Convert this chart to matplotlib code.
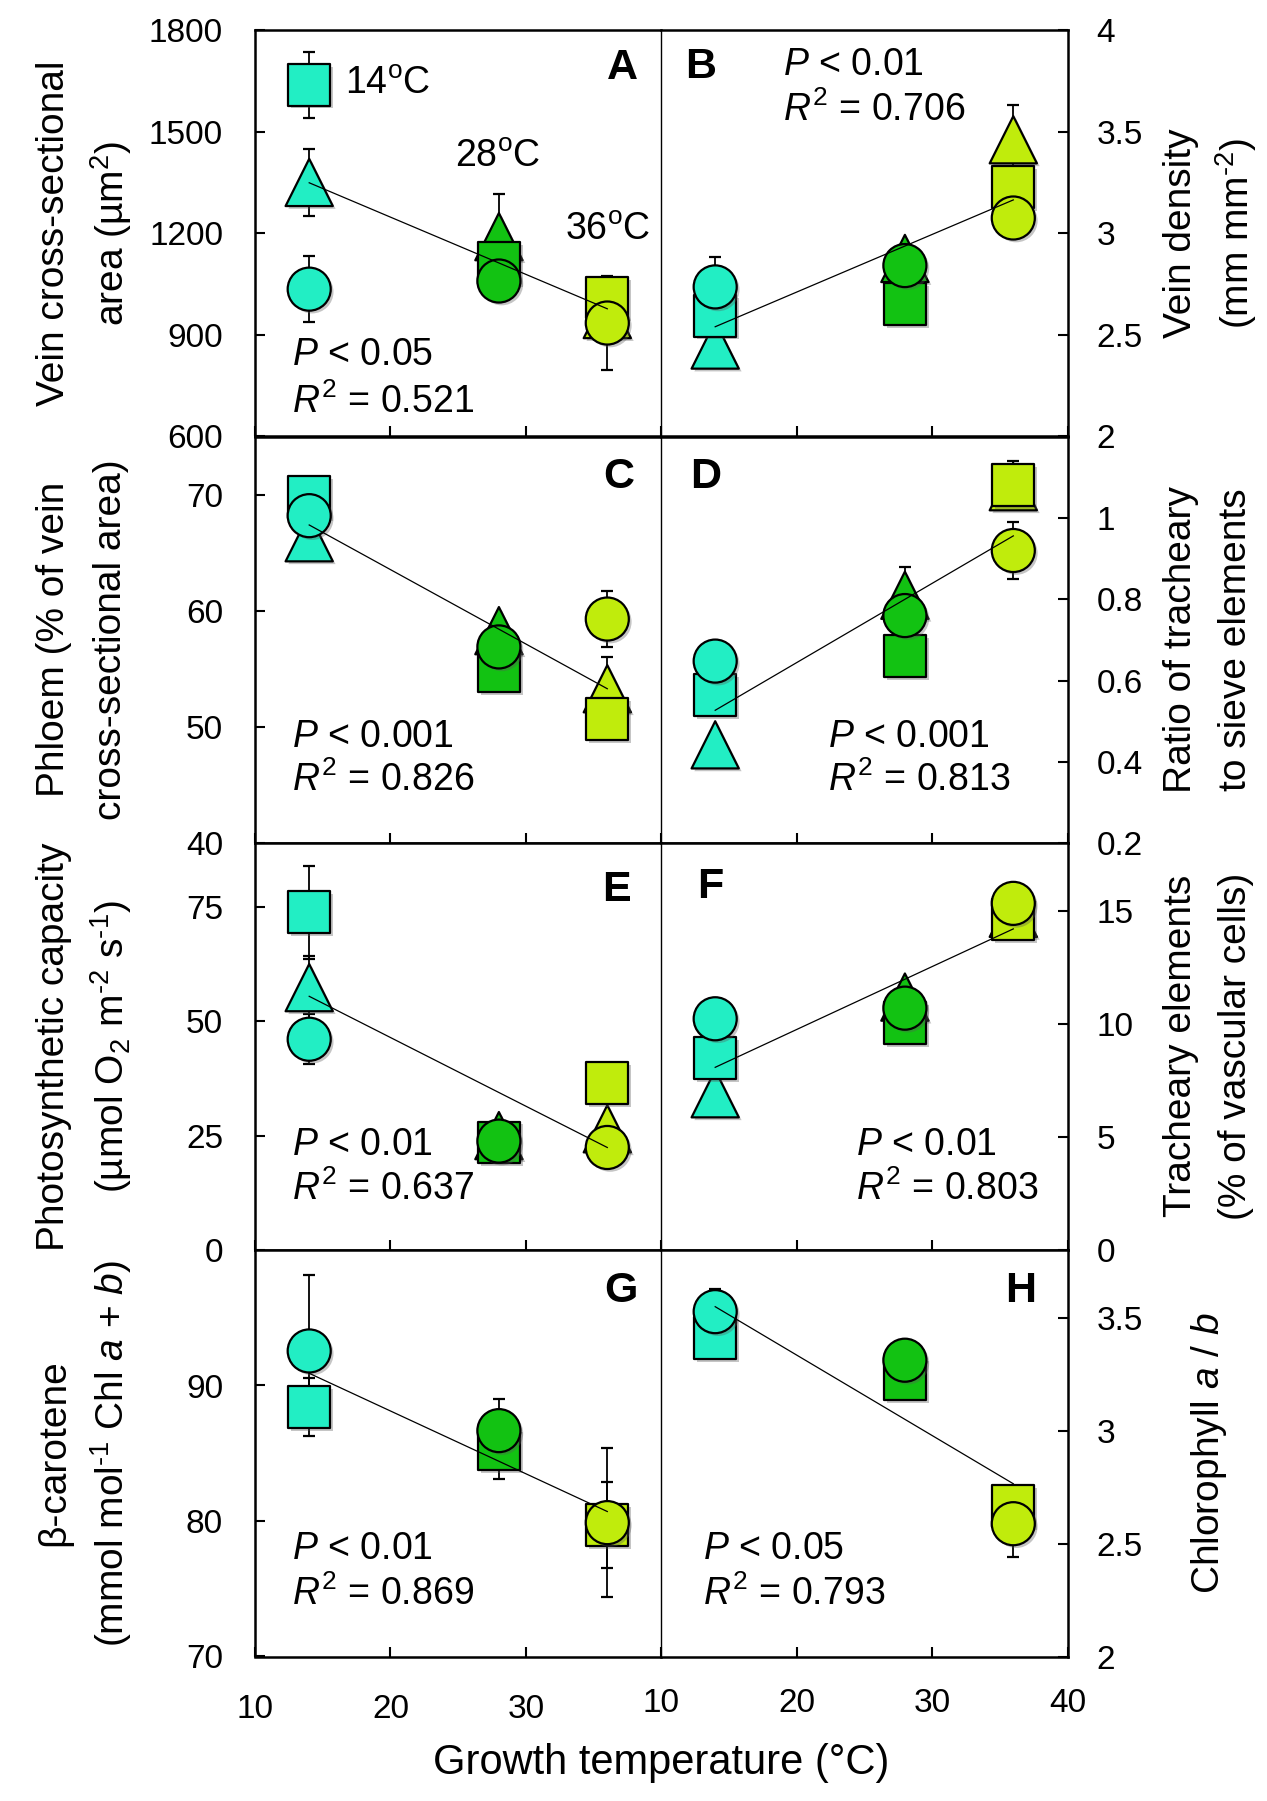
import matplotlib
matplotlib.use('Agg')
import matplotlib.pyplot as plt
import matplotlib.patheffects as pe

# fonts: Arial-like everywhere, math italics for P, R, a, b
plt.rcParams['font.family'] = ['Liberation Sans', 'DejaVu Sans']
plt.rcParams['mathtext.fontset'] = 'custom'
plt.rcParams['mathtext.rm'] = 'Liberation Sans'
plt.rcParams['mathtext.it'] = 'Liberation Sans:italic'
plt.rcParams['mathtext.bf'] = 'Liberation Sans:bold'

# ---------------- data ----------------
temps = [14, 28, 36]
fit_x = [14, 36]
colors = ['#22EEC4', '#12C212', '#C0EC0C']

# A  vein cross-sectional area (um2)
area_tri = [1350, 1190, 960]
area_tri_se = [100, 125, 0]
area_sq = [1638, 1112, 1010]
area_sq_se = [98, 0, 0]
area_cir = [1035, 1059, 935]
area_cir_se = [97, 0, 138]
area_fit = [1349, 977]

# B  vein density (mm mm-2)
dens_tri = [2.45, 2.876, 3.46]
dens_tri_se = [0, 0.05, 0.17]
dens_sq = [2.594, 2.652, 3.227]
dens_sq_se = [0, 0, 0.03]
dens_cir = [2.736, 2.841, 3.075]
dens_cir_se = [0.146, 0, 0]
dens_fit = [2.54, 3.164]

# C  phloem (% of vein cross-sectional area)
phl_tri = [66.3, 58.3, 53.3]
phl_tri_se = [0, 0, 2.7]
phl_sq = [69.8, 54.8, 50.7]
phl_sq_se = [0, 0, 0]
phl_cir = [68.2, 56.9, 59.3]
phl_cir_se = [0, 0, 2.4]
phl_fit = [67.4, 53.3]

# D  ratio of tracheary to sieve elements
rat_tri = [0.442, 0.81, 1.077]
rat_tri_se = [0, 0.069, 0]
rat_sq = [0.564, 0.660, 1.081]
rat_sq_se = [0, 0, 0.06]
rat_cir = [0.648, 0.760, 0.920]
rat_cir_se = [0, 0, 0.069]
rat_fit = [0.527, 0.956]

# E  photosynthetic capacity (umol O2 m-2 s-1)
ps_tri = [57.4, 25.0, 26.5]
ps_tri_se = [7, 2, 0]
ps_sq = [73.9, 23.5, 36.5]
ps_sq_se = [10.2, 0, 0]
ps_cir = [46.1, 23.8, 22.4]
ps_cir_se = [5.5, 0, 0]
ps_fit = [55.5, 22.4]

# F  tracheary elements (% of vascular cells)
te_tri = [6.91, 11.19, 14.9]
te_tri_se = [0, 0, 0]
te_sq = [8.48, 10.04, 14.63]
te_sq_se = [0, 0, 0]
te_cir = [10.23, 10.70, 15.34]
te_cir_se = [0, 0, 0]
te_fit = [8.08, 14.21]

# G  beta-carotene (mmol mol-1 Chl a+b)
bc_sq = [88.4, 85.27, 79.7]
bc_sq_se = [2.16, 2.2, 3.2]
bc_cir = [92.55, 86.67, 79.88]
bc_cir_se = [5.6, 2.3, 5.5]
bc_fit = [90.9, 80.7]

# H  chlorophyll a/b
chl_sq = [3.41, 3.228, 2.665]
chl_sq_se = [0, 0, 0]
chl_cir = [3.527, 3.312, 2.588]
chl_cir_se = [0.1, 0, 0.148]
chl_fit = [3.549, 2.765]

stats_p = ['< 0.05', '< 0.01', '< 0.001', '< 0.001', '< 0.01', '< 0.01', '< 0.01', '< 0.05']
stats_r2 = ['0.521', '0.706', '0.826', '0.813', '0.637', '0.803', '0.869', '0.793']

# ---------------- panel setup ----------------
panels = [
    dict(letter='A', row=0, col=0, ylim=(600, 1800), yticks=[600, 900, 1200, 1500, 1800],
         series=[('^', area_tri, area_tri_se), ('s', area_sq, area_sq_se), ('o', area_cir, area_cir_se)],
         fit=area_fit, lpos=(0.904, 0.906), spos=(0.091, 0.200, 0.084),
         ylabel=['Vein cross-sectional', 'area (µm$^{2}$)']),
    dict(letter='B', row=0, col=1, ylim=(2, 4), yticks=[2, 2.5, 3, 3.5, 4],
         series=[('^', dens_tri, dens_tri_se), ('s', dens_sq, dens_sq_se), ('o', dens_cir, dens_cir_se)],
         fit=dens_fit, lpos=(0.098, 0.909), spos=(0.30, 0.914, 0.803),
         ylabel=['Vein density', '(mm mm$^{\\mathrm{\u2010}2}$)']),
    dict(letter='C', row=1, col=0, ylim=(40, 75), yticks=[40, 50, 60, 70],
         series=[('^', phl_tri, phl_tri_se), ('s', phl_sq, phl_sq_se), ('o', phl_cir, phl_cir_se)],
         fit=phl_fit, lpos=(0.894, 0.90), spos=(0.091, 0.261, 0.154),
         ylabel=['Phloem (% of vein', 'cross-sectional area)']),
    dict(letter='D', row=1, col=1, ylim=(0.2, 1.2), yticks=[0.2, 0.4, 0.6, 0.8, 1.0],
         series=[('^', rat_tri, rat_tri_se), ('s', rat_sq, rat_sq_se), ('o', rat_cir, rat_cir_se)],
         fit=rat_fit, lpos=(0.11, 0.90), spos=(0.41, 0.261, 0.154),
         ylabel=['Ratio of tracheary', 'to sieve elements']),
    dict(letter='E', row=2, col=0, ylim=(0, 89), yticks=[0, 25, 50, 75],
         series=[('^', ps_tri, ps_tri_se), ('s', ps_sq, ps_sq_se), ('o', ps_cir, ps_cir_se)],
         fit=ps_fit, lpos=(0.89, 0.885), spos=(0.09, 0.259, 0.148),
         ylabel=['Photosynthetic capacity',
                 '(µmol O$_{2}$ m$^{\\mathrm{\u2010}2}$ s$^{\\mathrm{\u2010}1}$)']),
    dict(letter='F', row=2, col=1, ylim=(0, 18), yticks=[0, 5, 10, 15],
         series=[('^', te_tri, te_tri_se), ('s', te_sq, te_sq_se), ('o', te_cir, te_cir_se)],
         fit=te_fit, lpos=(0.12, 0.893), spos=(0.48, 0.259, 0.148),
         ylabel=['Tracheary elements', '(% of vascular cells)']),
    dict(letter='G', row=3, col=0, ylim=(70, 100), yticks=[70, 80, 90],
         series=[('s', bc_sq, bc_sq_se), ('o', bc_cir, bc_cir_se)],
         fit=bc_fit, lpos=(0.90, 0.90), spos=(0.09, 0.265, 0.154),
         ylabel=['β-carotene',
                 '(mmol mol$^{\\mathrm{\u2010}1}$ Chl $\\mathit{a}$ + $\\mathit{b}$)']),
    dict(letter='H', row=3, col=1, ylim=(2, 3.8), yticks=[2, 2.5, 3, 3.5],
         series=[('s', chl_sq, chl_sq_se), ('o', chl_cir, chl_cir_se)],
         fit=chl_fit, lpos=(0.885, 0.90), spos=(0.104, 0.265, 0.154),
         ylabel=['Chlorophyll $\\mathit{a}$ / $\\mathit{b}$']),
]

marker_size = {'^': 34, 's': 30, 'o': 31}
marker_z = {'^': 3, 's': 4, 'o': 5}

W, H = 1267, 1801
fig = plt.figure(figsize=(W / 100, H / 100), dpi=100)

col_x = [255 / W, 661 / W]
ax_w = 406.5 / W
row_top = [30, 436.7, 843.3, 1250]
ax_h = 406.5 / H

shadow = [pe.SimplePatchShadow(offset=(2, -2), shadow_rgbFace='0.35', alpha=0.35), pe.Normal()]

for i, p in enumerate(panels):
    left = col_x[p['col']]
    bottom = 1 - (row_top[p['row']] + 406.5) / H
    ax = fig.add_axes([left, bottom, ax_w, ax_h])

    for m, vals, se in p['series']:
        ax.errorbar(temps, vals, yerr=se, fmt='none', ecolor='k', elinewidth=1.3,
                    capsize=4.5, capthick=1.6, zorder=2)
        ax.scatter(temps, vals, s=marker_size[m] ** 2, marker=m, c=colors,
                   edgecolors='k', linewidths=1.6, zorder=marker_z[m], path_effects=shadow)
    ax.plot(fit_x, p['fit'], color='k', lw=0.9, zorder=6)

    ax.set_xlim(10, 40)
    ax.set_ylim(*p['ylim'])
    ax.set_yticks(p['yticks'])
    ax.set_yticklabels(['%g' % v for v in p['yticks']])

    for s in ax.spines.values():
        s.set_linewidth(1.8)

    last_row = p['row'] == 3
    if p['col'] == 0:
        ax.set_xticks([10, 20, 30])
        ax.spines['right'].set_visible(False)
        ax.tick_params(axis='y', direction='in', length=7, width=1.5, left=True, right=False,
                       labelsize=24, pad=23)
        ax.tick_params(axis='x', direction='in', length=7, width=1.5, top=False,
                       labelbottom=last_row, labelsize=24, pad=27)
    else:
        ax.set_xticks([10, 20, 30, 40])
        ax.spines['left'].set_linewidth(1.0)
        ax.yaxis.tick_right()
        ax.tick_params(axis='y', direction='in', length=7, width=1.5, left=False, right=True,
                       labelleft=False, labelright=True, labelsize=24, pad=21)
        ax.tick_params(axis='x', direction='in', length=7, width=1.5, top=False,
                       labelbottom=last_row, labelsize=24, pad=23)

    # panel letter
    ax.text(p['lpos'][0], p['lpos'][1], p['letter'], transform=ax.transAxes,
            fontsize=31, fontweight='bold', ha='center', va='center')
    # statistics
    sx, py, ry = p['spos']
    ax.text(sx, py, '$\\mathit{P}$ ' + stats_p[i], transform=ax.transAxes,
            fontsize=27, ha='left', va='center')
    ax.text(sx, ry, '$\\mathit{R}^{2}$ = ' + stats_r2[i], transform=ax.transAxes,
            fontsize=27, ha='left', va='center')

    # y-axis label(s)
    yc = 1 - (row_top[p['row']] + 203) / H
    if p['col'] == 0:
        xs = [54 / W, 111 / W]
    else:
        xs = [1181 / W, 1236 / W] if len(p['ylabel']) == 2 else [1209 / W]
    for x, line in zip(xs, p['ylabel']):
        fig.text(x, yc, line, rotation=90, fontsize=28, ha='center', va='center')

    if p['letter'] == 'A':
        ax.text(0.222, 0.867, '14$^{\\mathrm{o}}$C', transform=ax.transAxes,
                fontsize=27, ha='left', va='center')
        ax.text(0.597, 0.687, '28$^{\\mathrm{o}}$C', transform=ax.transAxes,
                fontsize=27, ha='center', va='center')
        ax.text(0.867, 0.507, '36$^{\\mathrm{o}}$C', transform=ax.transAxes,
                fontsize=27, ha='center', va='center')

fig.text(661 / W, 1 - 1763 / H, 'Growth temperature (°C)', fontsize=30, ha='center', va='center')

fig.savefig('out.png', dpi=100)
